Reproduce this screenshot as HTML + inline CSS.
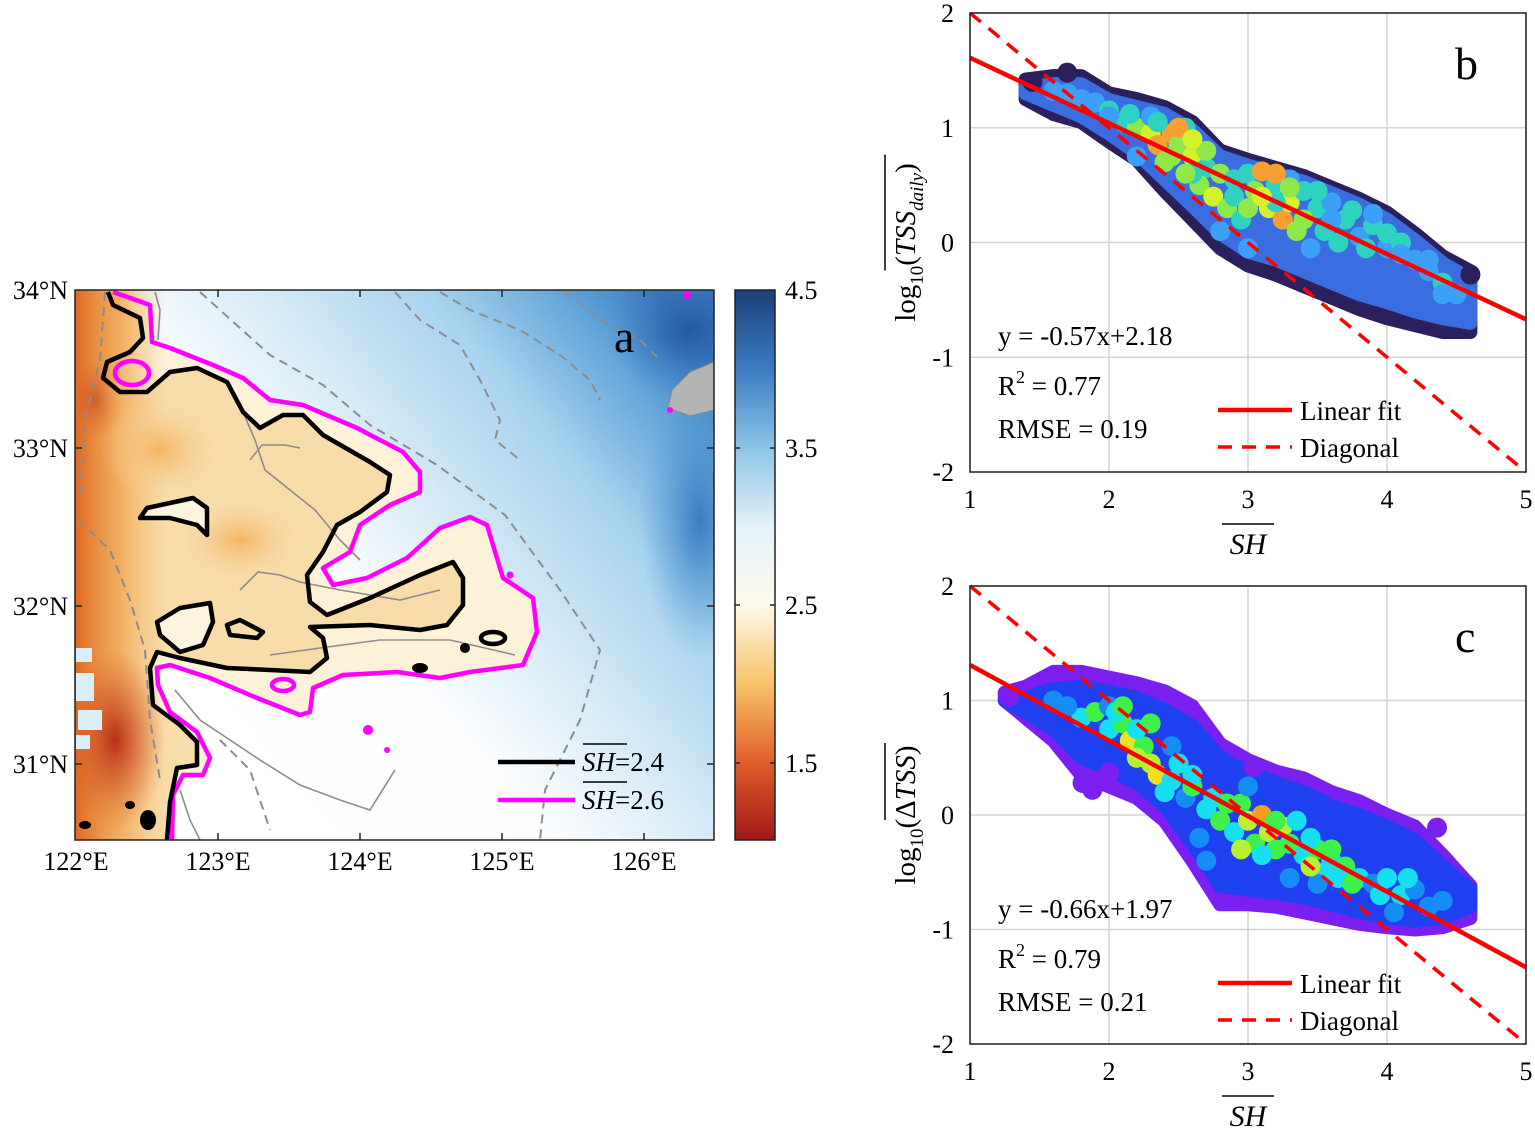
<!DOCTYPE html>
<html><head><meta charset="utf-8"><style>
body{margin:0;background:#fff}
svg{display:block;font-family:"Liberation Serif",serif}
</style></head><body>
<svg id="fig" width="1535" height="1129" viewBox="0 0 1535 1129" xmlns="http://www.w3.org/2000/svg">
<defs>
<linearGradient id="seaG" gradientUnits="userSpaceOnUse" x1="230" y1="760" x2="714" y2="360">
<stop offset="0" stop-color="#ffffff"/><stop offset="0.32" stop-color="#fbfdff"/><stop offset="0.5" stop-color="#d8ecf7"/><stop offset="0.72" stop-color="#a8d3ee"/><stop offset="0.9" stop-color="#5c9fd6"/><stop offset="1" stop-color="#3a78c0"/>
</linearGradient>
<linearGradient id="coastG" x1="0" y1="0" x2="1" y2="0">
<stop offset="0" stop-color="#e06a22"/><stop offset="0.5" stop-color="#ee9a40" stop-opacity="0.7"/><stop offset="1" stop-color="#f3b060" stop-opacity="0"/>
</linearGradient>
<radialGradient id="redBlob"><stop offset="0" stop-color="#b8301a"/><stop offset="1" stop-color="#d85a20" stop-opacity="0"/></radialGradient>
<radialGradient id="orBlob"><stop offset="0" stop-color="#f2b460"/><stop offset="1" stop-color="#f7d7a2" stop-opacity="0"/></radialGradient>
<radialGradient id="blueBlob"><stop offset="0" stop-color="#25589f"/><stop offset="1" stop-color="#3a78c0" stop-opacity="0"/></radialGradient>
<radialGradient id="blueBlob2"><stop offset="0" stop-color="#3a7cc2"/><stop offset="1" stop-color="#5c9fd6" stop-opacity="0"/></radialGradient>
<linearGradient id="cbG" x1="0" y1="0" x2="0" y2="1">
<stop offset="0" stop-color="#1c3f7a"/><stop offset="0.143" stop-color="#3a7cc0"/><stop offset="0.286" stop-color="#8cc4e6"/><stop offset="0.43" stop-color="#e4f2fa"/><stop offset="0.571" stop-color="#fffaec"/><stop offset="0.714" stop-color="#f7c46a"/><stop offset="0.857" stop-color="#e0602a"/><stop offset="1" stop-color="#a01818"/>
</linearGradient>
<clipPath id="mapClip"><rect x="75" y="290" width="639" height="550"/></clipPath>
</defs>

<!-- ================= PANEL A: MAP ================= -->
<g clip-path="url(#mapClip)">
<rect x="75" y="290" width="639" height="550" fill="url(#seaG)"/>
<ellipse cx="690" cy="330" rx="80" ry="70" fill="url(#blueBlob)"/>
<ellipse cx="700" cy="520" rx="60" ry="140" fill="url(#blueBlob2)"/>
<path fill="#fdf2d8" d="M75,290 L113,292 L150,305 L152,342 L170,348 L213,365 L243,378 L270,400 L303,405 L357,428 L403,452 L420,472 L420,492 L390,505 L360,525 L350,552 L323,568 L333,585 L367,578 L407,558 L440,528 L470,517 L487,525 L503,578 L533,598 L537,632 L523,665 L470,672 L440,678 L397,672 L343,675 L313,688 L310,712 L300,715 L257,698 L210,678 L170,665 L157,668 L158,685 L170,712 L197,732 L210,758 L203,775 L183,775 L173,795 L178,840 L75,840 Z"/>
<path fill="#f8dcaa" d="M75,290 L108,292 L113,305 L140,318 L143,338 L130,352 L107,362 L103,378 L120,392 L147,392 L170,372 L197,368 L227,382 L243,412 L260,428 L283,415 L303,415 L323,435 L370,462 L390,475 L387,492 L360,512 L337,525 L323,552 L307,575 L310,602 L327,615 L370,598 L420,575 L453,562 L463,578 L463,605 L447,625 L420,630 L370,625 L310,627 L323,638 L327,658 L310,672 L270,670 L227,668 L180,658 L157,652 L150,668 L153,705 L180,725 L197,742 L197,765 L177,768 L170,802 L167,840 L75,840 Z"/>
<rect x="75" y="290" width="90" height="550" fill="url(#coastG)"/>
<ellipse cx="240" cy="540" rx="60" ry="40" fill="url(#orBlob)"/>
<ellipse cx="160" cy="450" rx="60" ry="50" fill="url(#orBlob)"/>
<ellipse cx="115" cy="740" rx="50" ry="90" fill="url(#redBlob)"/>
<ellipse cx="95" cy="400" rx="25" ry="40" fill="url(#redBlob)" opacity="0.5"/>
<g fill="#d8eef8">
<rect x="76" y="648" width="16" height="14"/><rect x="76" y="673" width="18" height="28"/><rect x="78" y="710" width="24" height="20"/><rect x="76" y="735" width="14" height="14"/>
</g>
<path fill="#b4b4b4" stroke="#888" stroke-width="1" d="M714,362 L690,372 L672,390 L668,408 L690,416 L714,410 Z"/>
<g fill="#fdf4e0">
<path d="M140,518 L147,508 L193,498 L207,508 L207,535 L197,525 L170,518 Z"/>
<path d="M157,622 L180,608 L210,603 L213,622 L203,645 L180,652 L160,635 Z"/>
</g>
<g fill="none" stroke="#8c8c8c" stroke-width="2" stroke-dasharray="9,6">
<path d="M200,292 L270,355 L323,385 L370,425 L437,465 L505,515 L560,590 L600,650 L580,720 L545,790 L540,840"/>
<path d="M395,292 L420,320 L460,345 L480,380 L500,420 L495,440 L520,460"/>
<path d="M440,292 L470,310 L520,330 L560,355 L590,380 L600,400"/>
<path d="M565,292 L600,320 L640,340 L660,360"/>
<path d="M105,292 L100,360 L85,420 L80,500"/>
<path d="M78,520 L110,550 L130,600 L145,650 L150,720 L160,780"/>
<path d="M220,740 L250,770 L260,800 L270,830"/>
</g>
<g fill="none" stroke="#8c8c8c" stroke-width="1.6">
<path d="M155,292 L160,310 L158,340"/>
<path d="M243,412 L255,440 L265,470 L290,490 L315,510 L340,540 L360,560"/>
<path d="M250,460 L262,445 L285,445 L300,448"/>
<path d="M240,590 L258,572 L280,575 L300,582 L340,590 L400,600 L440,590"/>
<path d="M270,655 L320,648 L380,640 L450,640 L515,655"/>
<path d="M175,690 L200,720 L230,740 L260,760 L300,785 L340,800 L370,810 L395,770"/>
<path d="M180,790 L190,820 L200,840"/>
</g>
<g fill="none" stroke="#ff00ff" stroke-width="4.5" stroke-linejoin="round">
<path d="M113,292 L150,305 L152,342 L170,348 L213,365 L243,378 L270,400 L303,405 L357,428 L403,452 L420,472 L420,492 L390,505 L360,525 L350,552 L323,568 L333,585 L367,578 L407,558 L440,528 L470,517 L487,525 L503,578 L533,598 L537,632 L523,665 L470,672 L440,678 L397,672 L343,675 L313,688 L310,712 L300,715 L257,698 L210,678 L170,665 L157,668 L158,685 L170,712 L197,732 L210,758 L203,775 L183,775 L173,795 L172,840"/>
<ellipse cx="132" cy="373" rx="17" ry="12"/>
<ellipse cx="283" cy="685" rx="11" ry="6"/>
</g>
<g fill="#ff00ff">
<circle cx="510" cy="575" r="3.5"/><circle cx="368" cy="730" r="5"/><circle cx="387" cy="750" r="3"/><circle cx="687" cy="295" r="4"/><circle cx="670" cy="410" r="3"/>
</g>
<g fill="none" stroke="#000" stroke-width="4.5" stroke-linejoin="round">
<path d="M108,292 L113,305 L140,318 L143,338 L130,352 L107,362 L103,378 L120,392 L147,392 L170,372 L197,368 L227,382 L243,412 L260,428 L283,415 L303,415 L323,435 L370,462 L390,475 L387,492 L360,512 L337,525 L323,552 L307,575 L310,602 L327,615 L370,598 L420,575 L453,562 L463,578 L463,605 L447,625 L420,630 L370,625 L310,627 L323,638 L327,658 L310,672 L270,670 L227,668 L180,658 L157,652 L150,668 L153,705 L180,725 L197,742 L197,765 L177,768 L170,802 L167,840"/>
<path d="M140,518 L147,508 L193,498 L207,508 L207,535 L197,525 L170,518 Z"/>
<path d="M157,622 L180,608 L210,603 L213,622 L203,645 L180,652 L160,635 Z"/>
<path d="M227,625 L240,620 L263,632 L257,638 L230,635 Z"/>
<ellipse cx="493" cy="638" rx="12" ry="6"/>
</g>
<g fill="#000">
<circle cx="465" cy="648" r="5"/><ellipse cx="420" cy="668" rx="8" ry="5"/>
<ellipse cx="148" cy="820" rx="8" ry="10"/><ellipse cx="85" cy="825" rx="6" ry="4"/><ellipse cx="130" cy="805" rx="5" ry="4"/>
</g>
<text x="614" y="352" font-size="46">a</text>
<g>
<line x1="498" y1="762" x2="575" y2="762" stroke="#000" stroke-width="4.5"/>
<line x1="498" y1="800" x2="575" y2="800" stroke="#ff00ff" stroke-width="4.5"/>
<text x="582" y="771" font-size="27"><tspan font-style="italic">SH</tspan>=2.4</text>
<line x1="583" y1="744" x2="627" y2="744" stroke="#000" stroke-width="1.5"/>
<text x="582" y="809" font-size="27"><tspan font-style="italic">SH</tspan>=2.6</text>
<line x1="583" y1="782" x2="627" y2="782" stroke="#000" stroke-width="1.5"/>
</g>
</g>
<rect x="75" y="290" width="639" height="550" fill="none" stroke="#222" stroke-width="1.5"/>
<g stroke="#222" stroke-width="1.5">
<path d="M218,840v-7M360,840v-7M502,840v-7M644,840v-7M218,290v7M360,290v7M502,290v7M644,290v7M75,448h7M75,606h7M75,764h7M714,448h-7M714,606h-7M714,764h-7"/>
</g>
<g font-size="26" text-anchor="middle">
<text x="76" y="870">122°E</text><text x="218" y="870">123°E</text><text x="360" y="870">124°E</text><text x="502" y="870">125°E</text><text x="644" y="870">126°E</text>
</g>
<g font-size="26" text-anchor="end">
<text x="68" y="299">34°N</text><text x="68" y="457">33°N</text><text x="68" y="615">32°N</text><text x="68" y="773">31°N</text>
</g>
<g>
<rect x="735" y="290" width="40" height="550" fill="url(#cbG)" stroke="#222" stroke-width="1.5"/>
<path d="M735,448h5M735,605h5M735,763h5M775,448h-5M775,605h-5M775,763h-5" stroke="#222" stroke-width="1.5"/>
<g font-size="26"><text x="785" y="299">4.5</text><text x="785" y="457">3.5</text><text x="785" y="614">2.5</text><text x="785" y="772">1.5</text></g>
</g>

<g id="panelB"></g>
<g id="panelC"></g>
</svg>
<script>
// ---------- Panel b data ----------
const bEnvX = [1.4,1.6,1.8,2.0,2.2,2.4,2.6,2.8,3.0,3.2,3.4,3.6,3.8,4.0,4.2,4.4,4.6];
const bEnvTop = [1.42,1.45,1.45,1.3,1.25,1.18,1.05,0.80,0.72,0.65,0.58,0.48,0.38,0.26,0.08,-0.12,-0.25];
const bEnvBot = [1.25,1.12,1.05,0.88,0.72,0.45,0.20,-0.05,-0.20,-0.28,-0.38,-0.48,-0.58,-0.66,-0.72,-0.78,-0.78];
const bInTop = [1.35,1.38,1.38,1.24,1.18,1.12,0.98,0.75,0.67,0.60,0.53,0.43,0.33,0.2,0.02,-0.18,-0.32];
const bInBot = [1.30,1.2,1.1,0.95,0.78,0.55,0.32,0.08,-0.08,-0.15,-0.25,-0.35,-0.45,-0.52,-0.6,-0.66,-0.7];
const bPtX = [1.7,1.9,2.1,2.2,2.3,2.35,2.45,2.5,2.55,2.4,2.6,2.7,2.65,2.75,2.8,2.9,2.85,2.95,3.0,3.05,3.1,3.15,3.2,3.25,3.3,3.35,3.4,3.5,3.55,3.6,3.7,3.8,3.9,4.0,4.1,4.2,4.3,4.4,4.5,2.2,2.0,2.8,3.45,3.0,4.6,1.45,1.7,
  1.6,1.8,2.0,2.3,2.6,3.3,3.6,3.9,4.1,4.3,4.4,2.15,2.35,2.6,2.9,3.2,3.5,3.75,4.0,3.65,3.85,2.45,2.7,3.0,3.4,3.3,2.55,2.5,3.2,2.6,3.1];
const bPtY = [1.3,1.22,1.05,1.0,0.95,0.85,0.95,0.85,1.0,0.7,0.75,0.65,0.5,0.4,0.6,0.55,0.3,0.2,0.6,0.45,0.62,0.3,0.5,0.2,0.35,0.1,0.45,0.3,0.1,0.35,0.2,0.05,0.15,-0.05,0.0,-0.15,-0.25,-0.35,-0.45,0.75,1.15,0.1,-0.05,-0.05,-0.28,1.4,1.48,
  1.32,1.25,1.1,1.1,0.9,0.55,0.2,0.25,-0.1,-0.15,-0.45,1.12,1.05,0.6,0.4,0.35,0.45,0.28,0.08,0.0,-0.05,0.75,0.8,0.3,0.2,0.48,0.6,1.0,0.6,0.9,0.4];
const bPtC = ['lb','lb','cy','gr','ye','or','or','gr','cy','gr','ye','cy','gr','ye','gr','cy','gr','cy','cy','gr','or','ye','cy','or','ye','gr','cy','cy','cy','lb','cy','lb','cy','lb','cy','lb','lb','cy','lb','lb','cy','lb','lb','lb','dk','dk','dk',
  'lb','lb','lb','lb','lb','lb','lb','lb','lb','lb','lb','cy','cy','cy','cy','cy','cy','cy','cy','cy','cy','gr','gr','gr','gr','gr','gr','or','or','ye','ye'];
const bFit = [-0.57, 2.18];
// ---------- Panel c data ----------
const cEnvX = [1.25,1.4,1.6,1.8,2.0,2.2,2.4,2.6,2.8,3.0,3.2,3.4,3.6,3.8,4.0,4.2,4.4,4.6];
const cEnvTop = [1.07,1.12,1.25,1.25,1.2,1.15,1.08,0.95,0.62,0.48,0.38,0.32,0.2,0.12,0.0,-0.1,-0.35,-0.62];
const cEnvBot = [1.0,0.85,0.65,0.35,0.25,0.15,-0.05,-0.4,-0.78,-0.78,-0.8,-0.85,-0.9,-0.95,-0.98,-1.0,-0.98,-0.9];
const cInTop = [1.0,1.02,1.1,1.12,1.08,1.02,0.92,0.78,0.5,0.38,0.28,0.2,0.08,0.0,-0.1,-0.22,-0.45,-0.65];
const cInBot = [1.0,0.9,0.75,0.5,0.4,0.28,0.08,-0.25,-0.62,-0.65,-0.68,-0.72,-0.78,-0.85,-0.9,-0.92,-0.9,-0.8];
const cPtX = [1.8,1.9,2.0,2.1,2.15,2.25,2.3,2.35,2.45,2.5,2.55,2.4,2.7,2.8,2.9,2.95,3.0,3.05,3.1,3.15,3.2,3.25,3.3,3.35,3.4,3.5,3.55,3.6,3.7,3.8,3.9,4.0,4.1,4.2,4.3,2.0,1.7,3.0,2.7,3.5,2.6,1.81,1.88,2.0,3.04,4.36,1.28,
  2.05,2.2,2.6,2.75,3.1,3.45,3.65,3.95,4.15,2.1,2.3,2.85,3.2,3.6,3.75,2.2,2.95,3.45,1.6,2.45,2.65,3.3,4.05,4.4];
const cPtY = [0.85,0.9,0.75,0.8,0.65,0.6,0.45,0.35,0.3,0.45,0.15,0.2,0.05,-0.05,-0.15,0.1,-0.05,-0.25,0.0,-0.15,-0.3,-0.1,-0.25,-0.05,-0.35,-0.3,-0.5,-0.4,-0.45,-0.55,-0.6,-0.55,-0.7,-0.65,-0.8,0.95,0.95,0.25,-0.4,-0.6,0.25,0.28,0.22,0.37,0.42,-0.11,1.03,
  0.9,0.75,0.35,0.15,-0.35,-0.2,-0.55,-0.7,-0.55,0.95,0.8,0.1,-0.05,-0.3,-0.6,0.5,-0.3,-0.45,1.0,0.6,-0.2,-0.55,-0.85,-0.75];
const cPtC = ['cy','gr','cy','gr','ye','gr','yg','ye','cy','cy','lb','cy','cy','gr','cy','gr','yg','gr','or','yg','gr','yg','gr','cy','cy','gr','cy','cy','gr','cy','lb','cy','cy','lb','lb','lb','lb','lb','lb','lb','gr','pu','pu','pu','pu','pu','pu',
  'cy','cy','cy','cy','cy','cy','cy','cy','cy','gr','gr','gr','gr','gr','gr','yg','yg','yg','lb','lb','lb','lb','lb','lb'];
const cFit = [-0.66, 1.97];
const xTicks = [1,2,3,4,5];
const yTicks = [2,1,0,-1,-2];

const NS = 'http://www.w3.org/2000/svg';
const X0 = 970, X1 = 1526;
function xs(v){ return X0 + (v-1)*(X1-X0)/4; }
function mk(parent, tag, attrs){ const e=document.createElementNS(NS,tag); for(const k in attrs) e.setAttribute(k,attrs[k]); parent.appendChild(e); return e; }

function drawPanel(g, top, cfg){
  const bottom = top + cfg.h;
  const ys = v => top + (2-v)*cfg.h/4;
  xTicks.forEach(t=>{ const l=mk(g,'line',{x1:xs(t),x2:xs(t),y1:top,y2:bottom,stroke:'#d4d4d4','stroke-width':1.5});
    
     });
  yTicks.forEach(t=>{ const l=mk(g,'line',{x1:X0,x2:X1,y1:ys(t),y2:ys(t),stroke:'#d4d4d4','stroke-width':1.5});
    
     });
  function env(xa,ta,ba,col,name){
    const pts=[]; xa.forEach((x,i)=>pts.push(xs(x)+','+ys(ta[i])));
    for(let i=xa.length-1;i>=0;i--) pts.push(xs(xa[i])+','+ys(ba[i]));
    const p=mk(g,'polygon',{points:pts.join(' '),fill:col,stroke:col,'stroke-width':14,'stroke-linejoin':'round'});
    
    
  }
  env(cfg.envX,cfg.envTop,cfg.envBot,cfg.edge,'scatter-outer-cloud');
  env(cfg.envX,cfg.inTop,cfg.inBot,cfg.inner,'scatter-inner-cloud');
  cfg.px.forEach((x,i)=>{
    const c=mk(g,'circle',{cx:xs(x),cy:ys(cfg.py[i]),r:10,fill:cfg.colors[cfg.pc[i]]});
    
    
  });
  const fx1=1, fx2=5;
  const fit=mk(g,'line',{x1:xs(fx1),y1:ys(cfg.fit[0]*fx1+cfg.fit[1]),x2:xs(fx2),y2:ys(cfg.fit[0]*fx2+cfg.fit[1]),stroke:'#ff0000','stroke-width':4.5});
  
  
  const dg=mk(g,'line',{x1:xs(1),y1:ys(2),x2:xs(5),y2:ys(-2),stroke:'#ff0000','stroke-width':3.5,'stroke-dasharray':'14,10'});
  
  
  const fr=mk(g,'rect',{x:X0,y:top,width:X1-X0,height:cfg.h,fill:'none',stroke:'#222','stroke-width':1.5});
  
  
  xTicks.forEach(t=>{ const tx=mk(g,'text',{x:xs(t),y:bottom+36,'font-size':26,'text-anchor':'middle'}); tx.textContent=t;
    
     });
  yTicks.forEach(t=>{ const tx=mk(g,'text',{x:X0-16,y:ys(t)+9,'font-size':26,'text-anchor':'end'}); tx.textContent=t;
    
     });
  const t1=mk(g,'text',{x:998,y:top+332,'font-size':27}); t1.textContent=cfg.eq;
  
  
  const t2=mk(g,'text',{x:998,y:top+382,'font-size':27}); t2.innerHTML='R<tspan dy="-12" font-size="18">2</tspan><tspan dy="12"> = '+cfg.r2+'</tspan>';
  
  
  const t3=mk(g,'text',{x:998,y:top+425,'font-size':27}); t3.textContent='RMSE = '+cfg.rmse;
  
  
  const lg=mk(g,'g',{});
  
  
  mk(lg,'line',{x1:1218,x2:1292,y1:top+397,y2:top+397,stroke:'#ff0000','stroke-width':4.5});
  mk(lg,'line',{x1:1218,x2:1292,y1:top+434,y2:top+434,stroke:'#ff0000','stroke-width':3.5,'stroke-dasharray':'14,10'});
  const l1=mk(lg,'text',{x:1300,y:top+407,'font-size':27}); l1.textContent='Linear fit';
  const l2=mk(lg,'text',{x:1300,y:top+444,'font-size':27}); l2.textContent='Diagonal';
  const pl=mk(g,'text',{x:cfg.labX,y:top+66,'font-size':46}); pl.textContent=cfg.label;
  
  
  const xl=mk(g,'text',{x:1248,y:bottom+82,'font-size':30,'font-style':'italic','text-anchor':'middle'}); xl.textContent='SH';
  
  
  mk(g,'line',{x1:1222,x2:1274,y1:bottom+52,y2:bottom+52,stroke:'#000','stroke-width':1.5});
  const yg=mk(g,'g',{transform:'translate(915,'+(top+cfg.h/2)+') rotate(-90)'});
  
  
  const yl=mk(yg,'text',{x:0,y:0,'font-size':29,'text-anchor':'middle'});
  yl.innerHTML=cfg.ylab;
  mk(yg,'line',{x1:cfg.olx1,x2:cfg.olx2,y1:-30,y2:-30,stroke:'#000','stroke-width':1.5});
}

drawPanel(document.getElementById('panelB'), 13, {h:459, envX:bEnvX, envTop:bEnvTop, envBot:bEnvBot, inTop:bInTop, inBot:bInBot,
  edge:'#2b1f5c', inner:'#3a6ee0', px:bPtX, py:bPtY, pc:bPtC,
  colors:{lb:'#3ca0f8',cy:'#2ed3c0',gr:'#8ee84a',ye:'#d6f02a',or:'#f5a030',dk:'#2b1f5c'},
  fit:bFit, eq:'y = -0.57x+2.18', r2:'0.77', rmse:'0.19', label:'b', labX:1455,
  ylab:'log<tspan font-size="19" dy="8">10</tspan><tspan dy="-8">(</tspan><tspan font-style="italic">TSS</tspan><tspan font-style="italic" font-size="19" dy="8">daily</tspan><tspan dy="-8">)</tspan>', olx1:-28, olx2:88});
drawPanel(document.getElementById('panelC'), 586, {h:458, envX:cEnvX, envTop:cEnvTop, envBot:cEnvBot, inTop:cInTop, inBot:cInBot,
  edge:'#7a1ff0', inner:'#1f40f0', px:cPtX, py:cPtY, pc:cPtC,
  colors:{lb:'#168cf5',cy:'#16e0f0',gr:'#3ef04a',yg:'#b8f030',ye:'#f0e020',or:'#f0a020',pu:'#7a1ff0'},
  fit:cFit, eq:'y = -0.66x+1.97', r2:'0.79', rmse:'0.21', label:'c', labX:1455,
  ylab:'log<tspan font-size="19" dy="8">10</tspan><tspan dy="-8">(Δ</tspan><tspan font-style="italic">TSS</tspan>)', olx1:-5, olx2:72});
</script>
</body></html>
